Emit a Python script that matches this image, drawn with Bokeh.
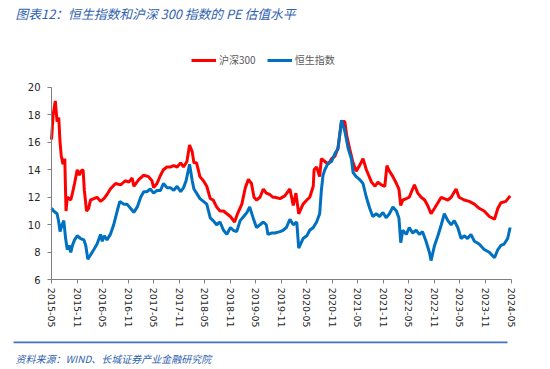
import pandas as pd
from bokeh.plotting import figure
from bokeh.models import (FixedTicker, Range1d, Legend, LegendItem, Label, BoxAnnotation)
from bokeh.embed import file_html
from bokeh.resources import INLINE

# ---------------- data ----------------
hs300_dates = [
    "2015-05-01", "2015-05-13", "2015-05-28", "2015-06-10", "2015-06-22", "2015-07-01", "2015-07-10",
    "2015-07-22", "2015-08-04", "2015-08-13", "2015-08-22", "2015-09-16", "2015-09-28", "2015-10-13",
    "2015-11-01", "2015-11-16", "2015-11-28", "2015-12-13", "2015-12-22", "2016-01-07", "2016-01-22",
    "2016-02-04", "2016-02-28", "2016-03-22", "2016-04-16", "2016-05-10", "2016-06-01", "2016-06-25",
    "2016-08-01", "2016-09-07", "2016-10-10", "2016-11-04", "2016-11-28", "2016-12-10", "2017-01-16",
    "2017-02-19", "2017-03-25", "2017-04-19", "2017-05-01", "2017-05-25", "2017-06-19", "2017-07-10",
    "2017-08-04", "2017-08-28", "2017-09-22", "2017-10-16", "2017-11-10", "2017-12-01", "2017-12-25",
    "2018-01-13", "2018-02-01", "2018-02-13", "2018-03-04", "2018-03-28", "2018-04-22", "2018-05-16",
    "2018-06-10", "2018-07-01", "2018-07-25", "2018-08-19", "2018-09-13", "2018-10-07", "2018-11-01",
    "2018-12-01", "2018-12-22", "2019-01-22", "2019-02-16", "2019-03-10", "2019-04-01", "2019-04-19",
    "2019-05-07", "2019-06-01", "2019-06-25", "2019-07-16", "2019-08-10", "2019-09-01", "2019-09-16",
    "2019-10-22", "2019-11-25", "2020-01-01", "2020-01-25", "2020-02-13", "2020-03-04", "2020-04-04",
    "2020-05-01", "2020-05-22", "2020-06-16", "2020-06-22", "2020-07-10", "2020-08-01", "2020-08-13",
    "2020-09-07", "2020-10-01", "2020-10-25", "2020-11-19", "2020-12-10", "2021-01-04", "2021-01-28",
    "2021-02-10", "2021-03-04", "2021-03-28", "2021-04-19", "2021-05-13", "2021-06-07", "2021-07-01",
    "2021-08-07", "2021-09-01", "2021-09-22", "2021-10-16", "2021-11-10", "2021-11-25", "2021-12-13",
    "2022-01-07", "2022-02-01", "2022-02-19", "2022-03-04", "2022-03-19", "2022-04-13", "2022-05-04",
    "2022-05-28", "2022-06-10", "2022-07-04", "2022-07-28", "2022-08-22", "2022-09-13", "2022-10-07",
    "2022-11-01", "2022-11-25", "2022-12-19", "2023-01-10", "2023-02-04", "2023-02-28", "2023-04-04",
    "2023-04-25", "2023-06-01", "2023-07-07", "2023-08-13", "2023-09-16", "2023-10-22", "2023-11-28",
    "2024-01-04", "2024-01-28", "2024-02-19", "2024-03-25", "2024-04-25",
]
hs300_pe = [
    16.2, 18.0, 19.0, 17.5, 17.8, 16.0, 15.0,
    14.4, 14.8, 11.0, 12.0, 11.8, 12.3, 13.0,
    14.0, 13.6, 13.9, 14.0, 12.5, 11.0, 11.2,
    11.8, 11.9, 12.0, 11.7, 11.9, 12.2, 12.6,
    13.0, 12.9, 13.2, 13.1, 13.4, 12.8, 13.3,
    13.6, 13.5, 13.2, 12.7, 13.0, 13.6, 14.0,
    14.2, 14.2, 14.3, 14.2, 14.5, 14.2, 14.6,
    15.8, 15.3, 14.5, 14.5, 13.5, 13.2, 12.8,
    11.9, 11.8, 11.3, 11.0, 11.0, 10.8, 10.6,
    10.2, 10.8, 11.5, 12.7, 13.3, 13.0, 12.0,
    11.8, 12.0, 12.6, 12.3, 12.2, 12.0, 12.0,
    11.9, 12.1, 12.6, 11.4, 12.3, 10.8, 11.5,
    11.8, 12.0, 12.8, 14.0, 14.2, 13.5, 14.8,
    14.6, 14.4, 14.8, 15.0, 15.6, 17.5, 17.5,
    16.5, 15.5, 14.5, 13.9, 14.3, 14.8, 14.0,
    13.1, 12.8, 13.1, 12.9, 12.8, 14.3, 13.9,
    13.5, 13.0, 12.6, 11.4, 11.8, 11.9, 12.0,
    12.6, 12.9, 12.3, 12.0, 11.8, 11.4, 10.8,
    11.2, 11.6, 12.0, 11.9, 11.8, 12.0, 12.6,
    12.0, 11.8, 11.7, 11.5, 11.2, 11.0, 10.6,
    10.4, 11.2, 11.6, 11.7, 12.1,
]

hsi_dates = [
    "2015-05-01", "2015-05-16", "2015-06-10", "2015-06-22", "2015-07-01", "2015-07-16", "2015-07-28",
    "2015-08-10", "2015-08-22", "2015-09-04", "2015-09-16", "2015-09-28", "2015-10-13", "2015-11-01",
    "2015-11-25", "2015-12-19", "2016-01-01", "2016-01-16", "2016-02-04", "2016-02-28", "2016-03-22",
    "2016-04-16", "2016-04-28", "2016-05-13", "2016-06-01", "2016-06-25", "2016-07-19", "2016-08-13",
    "2016-09-01", "2016-09-28", "2016-10-22", "2016-11-16", "2016-12-10", "2017-01-04", "2017-01-28",
    "2017-02-19", "2017-03-13", "2017-04-07", "2017-05-01", "2017-05-25", "2017-06-19", "2017-07-10",
    "2017-08-04", "2017-08-28", "2017-09-22", "2017-10-16", "2017-11-10", "2017-12-01", "2017-12-19",
    "2018-01-13", "2018-02-01", "2018-02-13", "2018-03-04", "2018-03-28", "2018-04-22", "2018-05-16",
    "2018-06-10", "2018-07-01", "2018-07-25", "2018-08-19", "2018-09-13", "2018-10-07", "2018-11-01",
    "2018-11-22", "2018-12-16", "2019-01-10", "2019-02-04", "2019-02-28", "2019-03-19", "2019-04-13",
    "2019-05-07", "2019-06-01", "2019-06-25", "2019-07-16", "2019-07-28", "2019-08-22", "2019-09-16",
    "2019-10-22", "2019-11-13", "2019-12-07", "2020-01-01", "2020-01-25", "2020-02-19", "2020-03-04",
    "2020-04-04", "2020-05-01", "2020-05-22", "2020-06-16", "2020-07-10", "2020-08-01", "2020-08-13",
    "2020-08-25", "2020-09-07", "2020-10-01", "2020-10-25", "2020-11-19", "2020-12-10", "2021-01-04",
    "2021-01-28", "2021-02-22", "2021-03-16", "2021-03-28", "2021-04-19", "2021-05-13", "2021-06-07",
    "2021-07-01", "2021-07-25", "2021-08-16", "2021-09-10", "2021-10-04", "2021-10-28", "2021-11-19",
    "2021-12-13", "2022-01-07", "2022-02-01", "2022-02-19", "2022-03-04", "2022-03-19", "2022-04-13",
    "2022-05-04", "2022-05-28", "2022-06-22", "2022-07-16", "2022-08-07", "2022-09-01", "2022-09-25",
    "2022-10-07", "2022-11-01", "2022-11-25", "2022-12-19", "2023-01-10", "2023-02-04", "2023-02-28",
    "2023-03-22", "2023-04-16", "2023-05-10", "2023-06-01", "2023-06-25", "2023-07-19", "2023-08-13",
    "2023-09-16", "2023-10-22", "2023-11-28", "2024-01-04", "2024-01-28", "2024-02-19", "2024-03-13",
    "2024-04-07", "2024-04-25",
]
hsi_pe = [
    11.2, 11.0, 10.8, 10.2, 9.5, 10.0, 10.3,
    9.0, 8.2, 8.5, 8.0, 8.5, 8.9, 9.2,
    9.0, 8.9, 8.5, 7.5, 7.8, 8.2, 8.6,
    9.3, 8.8, 9.2, 8.9, 9.3, 10.0, 11.0,
    11.7, 11.5, 11.5, 11.2, 10.9, 11.3, 12.0,
    12.4, 12.4, 12.6, 12.3, 12.5, 12.5, 13.0,
    12.7, 12.7, 12.5, 12.8, 12.4, 12.7, 13.2,
    14.4, 13.2, 12.6, 12.3, 11.9, 11.7, 11.5,
    10.5, 10.3, 10.0, 10.2, 9.6, 9.3, 9.8,
    9.6, 9.5, 10.3, 10.6, 10.9, 11.3, 10.5,
    9.8, 10.0, 10.2, 10.0, 9.3, 9.4, 9.4,
    9.5, 9.6, 9.8, 10.4, 10.0, 10.2, 8.3,
    9.0, 9.2, 9.6, 9.8, 10.2, 10.8, 12.5,
    13.6, 14.0, 14.5, 14.6, 15.2, 15.5, 17.6,
    16.8, 15.5, 14.8, 13.8, 13.5, 13.3, 13.0,
    12.0, 11.2, 10.6, 10.8, 10.6, 10.9, 10.5,
    10.8, 11.3, 11.0, 10.5, 8.7, 9.6, 9.3,
    9.8, 9.4, 9.6, 9.3, 9.5, 8.8, 8.0,
    7.4, 8.5, 9.2, 10.0, 10.8, 10.3, 10.0,
    10.3, 9.8, 9.0, 9.2, 9.0, 9.3, 8.8,
    8.6, 8.2, 8.0, 7.6, 8.2, 8.5, 8.6,
    9.0, 9.8,
]

series_names = ["沪深300", "恒生指数"]
series_colors = ["#FF0000", "#0070C0"]

tick_labels = ["2015-05", "2015-11", "2016-05", "2016-11", "2017-05", "2017-11", "2018-05",
               "2018-11", "2019-05", "2019-11", "2020-05", "2020-11", "2021-05", "2021-11",
               "2022-05", "2022-11", "2023-05", "2023-11", "2024-05"]
y_ticks = [6, 8, 10, 12, 14, 16, 18, 20]

title_text = "图表12：恒生指数和沪深 300 指数的 PE 估值水平"
source_text = "资料来源：WIND、长城证券产业金融研究院"

# ---------------- layout (pixel positions of the plotting area) ----------------
W, H = 548, 367
AX_LEFT, AX_RIGHT = 51.0, 510.5      # x pixel of first / last tick
AX_TOP, AX_BOTTOM = 86.7, 279.3      # y pixel of top / bottom tick

tick_ts = [pd.Timestamp(t + "-01") for t in tick_labels]
tick_ms = [t.value / 1e6 for t in tick_ts]
t0, t1 = tick_ms[0], tick_ms[-1]
kx = (AX_RIGHT - AX_LEFT) / (t1 - t0)
y0, y1 = y_ticks[0], y_ticks[-1]
ky = (AX_BOTTOM - AX_TOP) / (y1 - y0)

# the frame is the whole canvas; axes are pinned at the data edges
x_range = Range1d(t0 - AX_LEFT / kx, t0 + (W - AX_LEFT) / kx)
y_range = Range1d(y0 - (H - AX_BOTTOM) / ky, y1 + AX_TOP / ky)

p = figure(width=W, height=H, x_axis_type="datetime",
           output_backend="svg", toolbar_location=None,
           x_range=x_range, y_range=y_range, min_border=0)
p.outline_line_color = None
p.grid.visible = False

LINE_W = 3
r1 = p.line(pd.to_datetime(hs300_dates), hs300_pe, line_color=series_colors[0], line_width=LINE_W)
r2 = p.line(pd.to_datetime(hsi_dates), hsi_pe, line_color=series_colors[1], line_width=LINE_W)

axis_color = "#7F7F7F"
label_color = "#262626"
xa = p.xaxis[0]
xa.fixed_location = y0
xa.bounds = (t0, t1)
xa.ticker = FixedTicker(ticks=tick_ms)
xa.major_label_overrides = {ms: lab for ms, lab in zip(tick_ms, tick_labels)}
xa.major_label_orientation = "vertical"
xa.minor_tick_line_color = None
xa.major_tick_in = 0
xa.major_tick_out = 4
xa.major_label_standoff = 4
xa.axis_line_color = axis_color
xa.major_tick_line_color = axis_color
xa.major_label_text_font = "DejaVu Sans"
xa.major_label_text_font_size = "9.5px"
xa.major_label_text_color = label_color

ya = p.yaxis[0]
ya.fixed_location = t0
ya.bounds = (y0, y1)
ya.ticker = FixedTicker(ticks=y_ticks)
ya.minor_tick_line_color = None
ya.major_tick_in = 0
ya.major_tick_out = 4
ya.major_label_standoff = 7
ya.axis_line_color = axis_color
ya.major_tick_line_color = axis_color
ya.major_label_text_font = "DejaVu Sans"
ya.major_label_text_font_size = "10px"
ya.major_label_text_color = label_color

legend = Legend(items=[LegendItem(label=series_names[0], renderers=[r1]),
                       LegendItem(label=series_names[1], renderers=[r2])],
                orientation="horizontal", location=(191, H - 67),
                border_line_color=None, background_fill_alpha=0,
                label_text_font="Noto Sans CJK SC", label_text_font_size="10px",
                label_text_color="#595959", glyph_width=25, glyph_height=10,
                label_height=10, label_standoff=3, spacing=11, padding=0, margin=0)
p.add_layout(legend, "center")

blue_text = "#2F5FAF"
p.add_layout(Label(x=15, y=H - 13, x_units="screen", y_units="screen",
                   text=title_text, text_font="Noto Sans CJK SC", text_font_size="12.8px",
                   text_font_style="italic", text_color=blue_text, text_baseline="middle"))
p.add_layout(BoxAnnotation(left=13, right=507, top=H - 341, bottom=H - 342.7,
                           left_units="screen", right_units="screen",
                           top_units="screen", bottom_units="screen",
                           fill_color="#4472C4", fill_alpha=1, line_color=None))
p.add_layout(Label(x=15, y=H - 357.5, x_units="screen", y_units="screen",
                   text=source_text, text_font="Noto Sans CJK SC", text_font_size="10px",
                   text_font_style="italic", text_color=blue_text, text_baseline="middle"))

open("out.html", "w").write(file_html(p, INLINE))
